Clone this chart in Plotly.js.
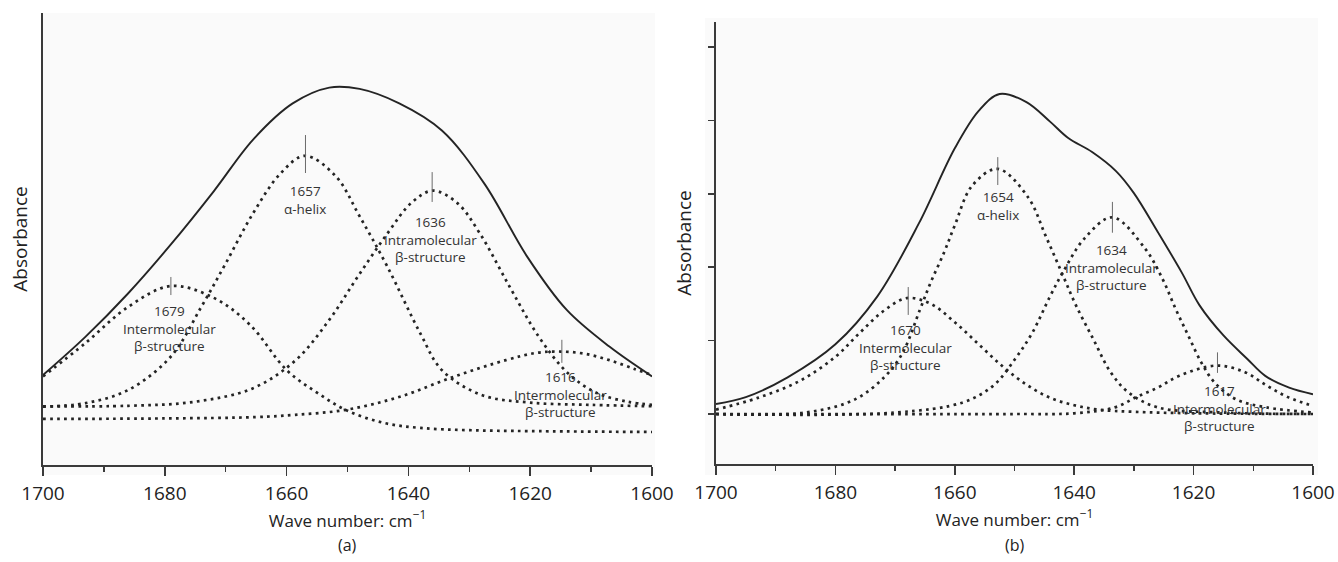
<!DOCTYPE html>
<html>
<head>
<meta charset="utf-8">
<script src="https://cdn.plot.ly/plotly-3.0.1.min.js"></script>
<style>html,body{margin:0;padding:0;background:#fff;}#chart{width:1338px;height:562px;}</style>
</head>
<body>
<div id="chart"></div>
<script>
// ---------- DATA: panel (a) ----------
const aTotalWn  = [1700, 1693, 1686, 1679, 1672, 1665.5, 1659, 1653, 1648, 1641.5, 1634.5, 1627.5, 1620.5, 1614, 1607, 1600];
const aTotalAbs = [0.199, 0.284, 0.38, 0.488, 0.605, 0.72, 0.8, 0.835, 0.832, 0.8, 0.74, 0.622, 0.461, 0.343, 0.262, 0.196];

const a1679Wn  = [1700, 1693, 1686, 1679, 1672, 1666, 1660, 1655, 1650, 1644, 1638, 1630, 1620, 1600];
const a1679Abs = [0.196, 0.27, 0.35, 0.396, 0.37, 0.31, 0.21, 0.16, 0.12, 0.093, 0.082, 0.077, 0.075, 0.073];

const a1657Wn  = [1700, 1693, 1686, 1679, 1674, 1670, 1665.5, 1661, 1657, 1652, 1648, 1643.5, 1638, 1634.5, 1628, 1620, 1610, 1600];
const a1657Abs = [0.129, 0.137, 0.166, 0.24, 0.35, 0.446, 0.557, 0.645, 0.684, 0.64, 0.55, 0.44, 0.29, 0.21, 0.155, 0.138, 0.133, 0.13];

const a1636Wn  = [1700, 1686, 1675, 1665.5, 1658.5, 1653, 1648.3, 1643.4, 1639.5, 1636, 1632, 1628.3, 1623.4, 1618.6, 1613.8, 1609, 1604, 1600];
const a1636Abs = [0.13, 0.131, 0.14, 0.17, 0.232, 0.321, 0.417, 0.513, 0.58, 0.607, 0.58, 0.513, 0.395, 0.284, 0.203, 0.159, 0.14, 0.133];

const a1616Wn  = [1700, 1680, 1665, 1658.6, 1650.3, 1641.4, 1632.4, 1624, 1619, 1615, 1611, 1607, 1603, 1600];
const a1616Abs = [0.102, 0.103, 0.106, 0.111, 0.122, 0.151, 0.196, 0.232, 0.248, 0.251, 0.246, 0.232, 0.213, 0.199];

const aMarkWn     = [1679, 1656.9, 1636.1, 1614.8];
const aMarkTop    = [0.416, 0.730, 0.648, 0.277];
const aMarkBottom = [0.376, 0.646, 0.582, 0.226];

const aLabelWn   = [1679.3, 1657.0, 1636.3, 1615.1];
const aLabelAbs  = [0.303, 0.587, 0.5, 0.155];
const aLabelText = [
  '1679<br>Intermolecular<br>β-structure',
  '1657<br>α-helix',
  '1636<br>Intramolecular<br>β-structure',
  '1616<br>Intermolecular<br>β-structure'
];

// ---------- DATA: panel (b) ----------
const bTotalWn  = [1700, 1695, 1688, 1680, 1673, 1666, 1660, 1656, 1652.5, 1648, 1644, 1641, 1637, 1633, 1630, 1626, 1622, 1619, 1615, 1611, 1608, 1604, 1600];
const bTotalAbs = [0.136, 0.23, 0.5, 0.95, 1.6, 2.6, 3.62, 4.13, 4.36, 4.25, 3.98, 3.76, 3.57, 3.31, 3.01, 2.48, 1.93, 1.48, 1.07, 0.75, 0.52, 0.36, 0.27];

const b1670Wn  = [1700, 1693, 1686, 1680, 1676, 1672, 1668, 1664, 1660, 1656, 1652, 1648, 1644, 1640, 1636, 1630, 1620, 1600];
const b1670Abs = [0.06, 0.22, 0.45, 0.78, 1.1, 1.4, 1.58, 1.5, 1.25, 0.95, 0.65, 0.4, 0.22, 0.12, 0.06, 0.03, 0.01, 0.0];

const b1654Wn  = [1700, 1685, 1676.7, 1671.6, 1668.7, 1665.8, 1664, 1661.8, 1660, 1657.1, 1652.8, 1647.7, 1644.8, 1641.9, 1639.7, 1636.8, 1633.9, 1631, 1626, 1615, 1600];
const b1654Abs = [0, 0.02, 0.2, 0.52, 0.84, 1.43, 1.8, 2.2, 2.57, 3.11, 3.34, 2.95, 2.43, 1.89, 1.48, 1.02, 0.57, 0.30, 0.09, 0.02, 0];

const b1634Wn  = [1700, 1670, 1658.6, 1653.5, 1649.9, 1647, 1644, 1641.9, 1638.3, 1633.6, 1628.1, 1625.2, 1623, 1620.9, 1618.7, 1616.5, 1612.9, 1607.8, 1600];
const b1634Abs = [0, 0.02, 0.16, 0.39, 0.75, 1.11, 1.61, 1.93, 2.39, 2.68, 2.25, 1.84, 1.43, 1.07, 0.70, 0.43, 0.2, 0.09, 0.02];

const b1617Wn  = [1700, 1650, 1640, 1633.2, 1629.6, 1626, 1622.4, 1616.2, 1611.4, 1607.8, 1604.2, 1600];
const b1617Abs = [0, 0, 0.01, 0.09, 0.23, 0.36, 0.52, 0.66, 0.57, 0.39, 0.23, 0.11];

const bMarkWn     = [1667.8, 1652.8, 1633.6, 1616.0];
const bMarkTop    = [1.73, 3.50, 2.89, 0.84];
const bMarkBottom = [1.35, 3.12, 2.47, 0.56];

const bLabelWn   = [1668.3, 1652.8, 1633.8, 1615.7];
const bLabelAbs  = [0.9, 2.84, 2.0, 0.07];
const bLabelText = [
  '1670<br>Intermolecular<br>β-structure',
  '1654<br>α-helix',
  '1634<br>Intramolecular<br>β-structure',
  '1617<br>Intermolecular<br>β-structure'
];

const xTickVals  = [1700, 1680, 1660, 1640, 1620, 1600];
const xTickText  = ['1700', '1680', '1660', '1640', '1620', '1600'];
const xTitleText = 'Wave number: cm<sup>−1</sup>';
const yTitleText = 'Absorbance';
const panelTags  = ['(a)', '(b)'];

// ---------- BUILD ----------
const W = 1338, H = 562;
const INK = '#242424';
const FONT = '"Open Sans", "DejaVu Sans", sans-serif';

function solid(x, y, xa, ya) {
  return {x: x, y: y, xaxis: xa, yaxis: ya, mode: 'lines', hoverinfo: 'skip',
    line: {color: INK, width: 1.9, shape: 'spline', smoothing: 1}, showlegend: false};
}
function dotted(x, y, xa, ya) {
  return {x: x, y: y, xaxis: xa, yaxis: ya, mode: 'lines', hoverinfo: 'skip',
    line: {color: INK, width: 2.7, dash: '2.7px,4.3px', shape: 'spline', smoothing: 1}, showlegend: false};
}
function marks(wn, top, bot, xa, ya) {
  const xs = [], ys = [];
  for (let i = 0; i < wn.length; i++) { xs.push(wn[i], wn[i], null); ys.push(bot[i], top[i], null); }
  return {x: xs, y: ys, xaxis: xa, yaxis: ya, mode: 'lines', hoverinfo: 'skip',
    line: {color: '#6a6a6a', width: 1}, showlegend: false};
}

const traces = [
  solid(aTotalWn, aTotalAbs, 'x', 'y'),
  dotted(a1679Wn, a1679Abs, 'x', 'y'),
  dotted(a1657Wn, a1657Abs, 'x', 'y'),
  dotted(a1636Wn, a1636Abs, 'x', 'y'),
  dotted(a1616Wn, a1616Abs, 'x', 'y'),
  marks(aMarkWn, aMarkTop, aMarkBottom, 'x', 'y'),
  solid(bTotalWn, bTotalAbs, 'x2', 'y2'),
  dotted(b1670Wn, b1670Abs, 'x2', 'y2'),
  dotted(b1654Wn, b1654Abs, 'x2', 'y2'),
  dotted(b1634Wn, b1634Abs, 'x2', 'y2'),
  dotted(b1617Wn, b1617Abs, 'x2', 'y2'),
  marks(bMarkWn, bMarkTop, bMarkBottom, 'x2', 'y2')
];

const annotations = [];
function addLabels(wn, ab, txt, xr, yr) {
  for (let i = 0; i < wn.length; i++) {
    annotations.push({x: wn[i], y: ab[i], xref: xr, yref: yr, text: txt[i], showarrow: false,
      xanchor: 'center', yanchor: 'middle', align: 'center',
      font: {family: FONT, size: 13.5, color: '#333'}});
  }
}
addLabels(aLabelWn, aLabelAbs, aLabelText, 'x', 'y');
addLabels(bLabelWn, bLabelAbs, bLabelText, 'x2', 'y2');

const xDomA = [43 / W, 652 / W], xDomB = [716 / W, 1313 / W];
panelTags.forEach((t, i) => {
  const d = i === 0 ? xDomA : xDomB;
  annotations.push({x: (d[0] + d[1]) / 2, y: 1 - 545 / H, xref: 'paper', yref: 'paper', text: t,
    showarrow: false, xanchor: 'center', yanchor: 'middle', font: {family: FONT, size: 16, color: '#222'}});
});

function xAxis(dom, anchor) {
  return {domain: dom, anchor: anchor, range: [1700, 1600], autorange: false,
    showline: true, linecolor: '#3a3a3a', linewidth: 1.6, mirror: false,
    ticks: 'outside', ticklen: 9, tickwidth: 1.5, tickcolor: '#3a3a3a',
    tickvals: xTickVals, ticktext: xTickText, ticklabelstandoff: 2,
    minor: {ticks: 'outside', ticklen: 5, tickwidth: 1.5, tickcolor: '#3a3a3a', dtick: 10, tick0: 1600, showgrid: false},
    showgrid: false, zeroline: false, fixedrange: true, automargin: false,
    tickfont: {family: FONT, size: 19, color: '#222'},
    title: {text: xTitleText, font: {family: FONT, size: 17, color: '#222'}, standoff: 2}};
}

const layout = {
  width: W, height: H,
  margin: {l: 0, r: 0, t: 0, b: 0},
  paper_bgcolor: '#ffffff', plot_bgcolor: 'rgba(0,0,0,0)',
  showlegend: false,
  font: {family: FONT, color: '#222'},
  xaxis: xAxis(xDomA, 'y'),
  xaxis2: xAxis(xDomB, 'y2'),
  yaxis: {domain: [1 - 465 / H, 1 - 13 / H], anchor: 'x', range: [0, 1], autorange: false,
    showline: true, linecolor: '#3a3a3a', linewidth: 2, ticks: '', showticklabels: false,
    showgrid: false, zeroline: false, fixedrange: true, automargin: false,
    title: {text: yTitleText, font: {family: FONT, size: 19, color: '#222'}, standoff: 8}},
  yaxis2: {domain: [1 - 464 / H, 1 - 22 / H], anchor: 'x2', range: [-0.681, 5.341], autorange: false,
    showline: true, linecolor: '#3a3a3a', linewidth: 1.6, ticks: 'outside', ticklen: 6, tickwidth: 1.5,
    tickcolor: '#3a3a3a', tick0: 0, dtick: 1, showticklabels: false,
    showgrid: false, zeroline: false, fixedrange: true, automargin: false,
    title: {text: yTitleText, font: {family: FONT, size: 19, color: '#222'}, standoff: 12}},
  shapes: [
    {type: 'rect', xref: 'paper', yref: 'paper', x0: 43 / W, x1: 655 / W, y0: 1 - 475 / H, y1: 1 - 13 / H,
      fillcolor: '#fafafa', line: {width: 0}, layer: 'below'},
    {type: 'rect', xref: 'paper', yref: 'paper', x0: 705 / W, x1: 1318 / W, y0: 1 - 475 / H, y1: 1 - 18 / H,
      fillcolor: '#fafafa', line: {width: 0}, layer: 'below'}
  ],
  annotations: annotations
};

Plotly.newPlot('chart', traces, layout, {displayModeBar: false, staticPlot: true});
</script>
</body>
</html>
